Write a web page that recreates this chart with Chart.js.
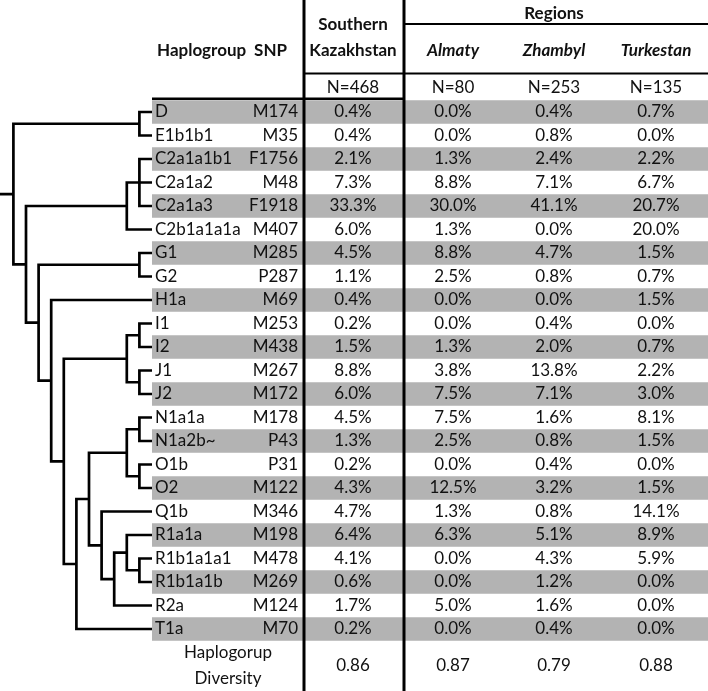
<!DOCTYPE html>
<html lang="en">
<head>
    <meta charset="UTF-8">
    <title>Y-chromosome haplogroups, Southern Kazakhstan</title>
    <script src="https://cdn.jsdelivr.net/npm/chart.js"></script>
    <style>
        body { margin: 0; background: #fff; }
    </style>
</head>
<body>
    <canvas id="hapChart" width="708" height="691"></canvas>

    <script>
        // table data
        const haplogroups = ['D', 'E1b1b1', 'C2a1a1b1', 'C2a1a2', 'C2a1a3', 'C2b1a1a1a', 'G1', 'G2', 'H1a',
            'I1', 'I2', 'J1', 'J2', 'N1a1a', 'N1a2b~', 'O1b', 'O2', 'Q1b', 'R1a1a', 'R1b1a1a1', 'R1b1a1b', 'R2a', 'T1a'];
        const snps = ['M174', 'M35', 'F1756', 'M48', 'F1918', 'M407', 'M285', 'P287', 'M69',
            'M253', 'M438', 'M267', 'M172', 'M178', 'P43', 'P31', 'M122', 'M346', 'M198', 'M478', 'M269', 'M124', 'M70'];
        const southern  = [0.4, 0.4, 2.1, 7.3, 33.3, 6.0, 4.5, 1.1, 0.4, 0.2, 1.5, 8.8, 6.0, 4.5, 1.3, 0.2, 4.3, 4.7, 6.4, 4.1, 0.6, 1.7, 0.2];
        const almaty    = [0.0, 0.0, 1.3, 8.8, 30.0, 1.3, 8.8, 2.5, 0.0, 0.0, 1.3, 3.8, 7.5, 7.5, 2.5, 0.0, 12.5, 1.3, 6.3, 0.0, 0.0, 5.0, 0.0];
        const zhambyl   = [0.4, 0.8, 2.4, 7.1, 41.1, 0.0, 4.7, 0.8, 0.0, 0.4, 2.0, 13.8, 7.1, 1.6, 0.8, 0.4, 3.2, 0.8, 5.1, 4.3, 1.2, 1.6, 0.4];
        const turkestan = [0.7, 0.0, 2.2, 6.7, 20.7, 20.0, 1.5, 0.7, 1.5, 0.0, 0.7, 2.2, 3.0, 8.1, 1.5, 0.0, 1.5, 14.1, 8.9, 5.9, 0.0, 0.0, 0.0];
        const sampleSizes = [468, 80, 253, 135];
        const diversity = ['0.86', '0.87', '0.79', '0.88'];
        const regionNames = ['Almaty', 'Zhambyl', 'Turkestan'];

        // tree topology (leaves are haplogroup names)
        const tree = [['D', 'E1b1b1'],
            [[['C2a1a1b1', 'C2a1a2', 'C2a1a3'], 'C2b1a1a1a'],
             [['G1', 'G2'],
              ['H1a',
               [[['I1', 'I2'], ['J1', 'J2']],
                [[[['N1a1a', 'N1a2b~'], ['O1b', 'O2']],
                  ['Q1b', [['R1a1a', ['R1b1a1a1', 'R1b1a1b']], 'R2a']]],
                 'T1a']]]]]];

        // layout (x in px-like units, y in row units)
        const LEAF_X = 152, STEP = 12.6;
        const TABLE_L = 152, TABLE_R = 708;
        const COL_NAME = 155, COL_SNP = 298;
        const COL_VAL = [353, 453, 554, 656];
        const SEP1 = 304, SEP2 = 404;
        const FONT = 'Lato, "Noto Sans", sans-serif';

        // build tree segments
        const treePts = [];
        const gap = () => treePts.push({x: null, y: null});
        function place(node) {
            if (typeof node === 'string') {
                return {x: LEAF_X, y: haplogroups.indexOf(node), h: 0};
            }
            const kids = node.map(place);
            const h = Math.max(...kids.map(k => k.h)) + 1;
            const x = LEAF_X - STEP * h;
            const first = kids[0], last = kids[kids.length - 1];
            treePts.push({x: first.x, y: first.y}, {x: x, y: first.y}, {x: x, y: last.y}, {x: last.x, y: last.y});
            gap();
            kids.slice(1, -1).forEach(k => {
                treePts.push({x: x, y: k.y}, {x: k.x, y: k.y});
                gap();
            });
            return {x: x, y: (first.y + last.y) / 2, h: h};
        }
        const root = place(tree);
        treePts.push({x: 0, y: root.y}, {x: root.x, y: root.y});

        const fmt = v => v.toFixed(1) + '%';

        const tablePlugin = {
            id: 'tablePlugin',
            beforeDraw(chart) {
                const c = chart.ctx;
                c.save();
                c.fillStyle = '#fff';
                c.fillRect(0, 0, chart.width, chart.height);
                c.restore();
            },
            beforeDatasetsDraw(chart) {
                const c = chart.ctx, xs = chart.scales.x, ys = chart.scales.y;
                c.save();
                c.fillStyle = '#b3b3b3';
                haplogroups.forEach((h, i) => {
                    if (i % 2 !== 0) return;
                    const top = ys.getPixelForValue(i - 0.5), bot = ys.getPixelForValue(i + 0.5);
                    c.fillRect(xs.getPixelForValue(TABLE_L), top, xs.getPixelForValue(TABLE_R) - xs.getPixelForValue(TABLE_L), bot - top);
                });
                c.restore();
            },
            afterDatasetsDraw(chart) {
                const c = chart.ctx, xs = chart.scales.x, ys = chart.scales.y;
                const px = v => xs.getPixelForValue(v), py = v => ys.getPixelForValue(v);
                c.save();
                c.fillStyle = '#111';
                c.textBaseline = 'middle';

                // header
                c.font = 'bold 17px ' + FONT;
                c.textAlign = 'left';
                c.fillText('Haplogroup', px(157), py(-2.6));
                c.textAlign = 'right';
                c.fillText('SNP', px(COL_SNP - 11), py(-2.6));
                c.textAlign = 'center';
                c.fillText('Southern', px(COL_VAL[0]), py(-3.72));
                c.fillText('Kazakhstan', px(COL_VAL[0]), py(-2.6));
                c.fillText('Regions', px(COL_VAL[2]), py(-4.2));
                c.font = 'italic bold 17px ' + FONT;
                regionNames.forEach((r, k) => c.fillText(r, px(COL_VAL[k + 1]), py(-2.62)));

                // sample sizes
                c.font = '17px ' + FONT;
                sampleSizes.forEach((n, k) => c.fillText('N=' + n, px(COL_VAL[k]), py(-1.05)));

                // rows
                haplogroups.forEach((h, i) => {
                    const y = py(i);
                    c.textAlign = 'left';
                    c.fillText(h, px(COL_NAME), y);
                    c.textAlign = 'right';
                    c.fillText(snps[i], px(COL_SNP), y);
                    c.textAlign = 'center';
                    [southern, almaty, zhambyl, turkestan].forEach((arr, k) => c.fillText(fmt(arr[i]), px(COL_VAL[k]), y));
                });

                // diversity
                c.fillText('Haplogorup', px(228), py(23.02));
                c.fillText('Diversity', px(228), py(24.12));
                diversity.forEach((d, k) => c.fillText(d, px(COL_VAL[k]), py(23.55)));

                // rules
                c.strokeStyle = '#000';
                c.lineWidth = 3;
                [SEP1, SEP2].forEach(x => {
                    c.beginPath();
                    c.moveTo(px(x), chart.chartArea.top);
                    c.lineTo(px(x), chart.chartArea.bottom);
                    c.stroke();
                });
                c.lineWidth = 2;
                const hline = (x0, x1, y) => {
                    c.beginPath();
                    c.moveTo(px(x0), py(y));
                    c.lineTo(px(x1), py(y));
                    c.stroke();
                };
                hline(SEP2, TABLE_R, -3.74);
                hline(SEP1, TABLE_R, -1.64);
                c.lineWidth = 2.5;
                hline(TABLE_L, SEP2, -0.56);
                c.restore();
            }
        };

        const ctx = document.getElementById('hapChart').getContext('2d');
        const chart = new Chart(ctx, {
            type: 'scatter',
            data: {
                datasets: [{
                    label: 'tree',
                    data: treePts,
                    showLine: true,
                    spanGaps: false,
                    borderColor: '#000',
                    borderWidth: 2.7,
                    borderJoinStyle: 'miter',
                    borderCapStyle: 'butt',
                    pointRadius: 0,
                    tension: 0
                }]
            },
            options: {
                responsive: false,
                animation: false,
                layout: { padding: 0 },
                plugins: { legend: { display: false }, tooltip: { enabled: false } },
                scales: {
                    x: { type: 'linear', min: 0, max: 708, display: false },
                    y: { type: 'linear', min: -4.766, max: 24.638, reverse: true, display: false }
                }
            },
            plugins: [tablePlugin]
        });
    </script>
</body>
</html>
